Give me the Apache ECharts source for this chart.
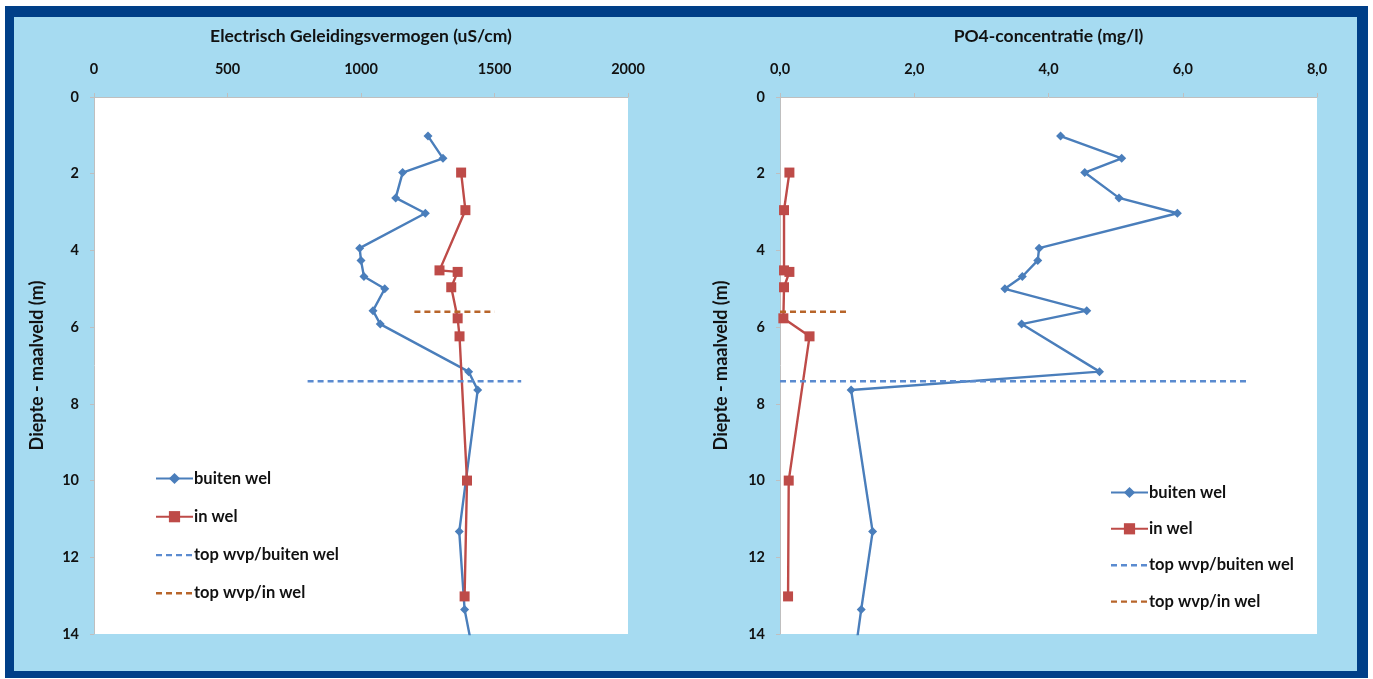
<!DOCTYPE html>
<html>
<head>
<meta charset="utf-8">
<script src="https://cdn.jsdelivr.net/npm/echarts@6/dist/echarts.min.js"></script>
<style>
html,body{margin:0;padding:0;background:#ffffff;}
#chart{width:1373px;height:679px;}
</style>
</head>
<body>
<div id="chart"></div>
<script>
// ---- data ----
var depthBuiten = [1.02, 1.6, 1.97, 2.63, 3.03, 3.94, 4.26, 4.68, 5.0, 5.57, 5.92, 7.16, 7.64, 11.33, 13.36, 14.5];
var ecBuiten    = [1251, 1307, 1156, 1130, 1241, 995, 1000, 1011, 1089, 1045, 1072, 1403, 1437, 1368, 1388, 1420];
var po4Buiten   = [4.18, 5.09, 4.54, 5.05, 5.92, 3.86, 3.84, 3.61, 3.35, 4.57, 3.60, 4.76, 1.06, 1.38, 1.21, 1.12];

var depthIn = [1.97, 2.95, 4.52, 4.56, 4.96, 5.77, 6.24, 10.0, 13.02];
var ecIn    = [1375, 1391, 1294, 1362, 1338, 1362, 1369, 1397, 1388];
var po4In   = [0.14, 0.06, 0.06, 0.14, 0.06, 0.05, 0.44, 0.13, 0.12];

var topWvpBuitenDepth = 7.41;
var topWvpInDepth = 5.6;
var ecTopBuitenRange = [800, 1600];
var ecTopInRange = [1200, 1500];
var po4TopBuitenRange = [0, 7.0];
var po4TopInRange = [0, 1.0];

var ecTicks = [0, 500, 1000, 1500, 2000];
var po4Ticks = [0, 2, 4, 6, 8];
var depthTicks = [0, 2, 4, 6, 8, 10, 12, 14];

var names = ['buiten wel', 'in wel', 'top wvp/buiten wel', 'top wvp/in wel'];
var titles = ['Electrisch Geleidingsvermogen (uS/cm)', 'PO4-concentratie (mg/l)'];
var yTitle = 'Diepte - maalveld (m)';

// ---- helpers ----
function pairs(xs, ys) { return xs.map(function (x, i) { return [x, ys[i]]; }); }
var FONT = 'Lato';
var BLUE = '#4A7EBB', RED = '#BE4B48', DBLUE = '#5B8BD0', BROWN = '#B8652A';
var axisGray = '#BFBFBF';
var DASH_ICON = 'path://M0,0 M37,14 M0,6h6v2.4h-6z M10,6h6v2.4h-6z M20,6h6v2.4h-6z M30,6h6v2.4h-6z';

function xAxisCfg(idx, ticks, fmt) {
  return {
    type: 'value', gridIndex: idx, position: 'top',
    min: ticks[0], max: ticks[ticks.length - 1], interval: ticks[1] - ticks[0],
    name: titles[idx], nameLocation: 'middle', nameGap: 52,
    nameTextStyle: { fontFamily: FONT, fontWeight: 'bold', fontSize: 17.5, color: '#111' },
    axisLine: { show: true, lineStyle: { color: axisGray, width: 1 } },
    axisTick: { show: true, length: 4, lineStyle: { color: axisGray } },
    axisLabel: { margin: 20, fontFamily: FONT, fontWeight: 'bold', fontSize: 14.5, color: '#111', formatter: fmt },
    splitLine: { show: false }
  };
}
function yAxisCfg(idx, gap) {
  return {
    type: 'value', gridIndex: idx, inverse: true,
    min: depthTicks[0], max: depthTicks[depthTicks.length - 1], interval: depthTicks[1] - depthTicks[0],
    name: yTitle, nameLocation: 'middle', nameGap: gap, nameRotate: 90,
    nameTextStyle: { fontFamily: FONT, fontWeight: 'bold', fontSize: 18, color: '#111' },
    axisLine: { show: true, lineStyle: { color: axisGray, width: 1 } },
    axisTick: { show: true, length: 4, lineStyle: { color: axisGray } },
    axisLabel: { margin: 15, fontFamily: FONT, fontWeight: 'bold', fontSize: 14.5, color: '#111' },
    splitLine: { show: false }
  };
}
function seriesFor(idx, buiten, inw, topB, topI) {
  return [
    { name: names[0], type: 'line', xAxisIndex: idx, yAxisIndex: idx, data: pairs(buiten, depthBuiten),
      symbol: 'diamond', symbolSize: 9, lineStyle: { color: BLUE, width: 2.4 }, itemStyle: { color: BLUE },
      clip: true, animation: false },
    { name: names[1], type: 'line', xAxisIndex: idx, yAxisIndex: idx, data: pairs(inw, depthIn),
      symbol: 'rect', symbolSize: 10, lineStyle: { color: RED, width: 2.4 }, itemStyle: { color: RED },
      clip: true, animation: false },
    { name: names[2], type: 'line', xAxisIndex: idx, yAxisIndex: idx,
      data: [[topB[0], topWvpBuitenDepth], [topB[1], topWvpBuitenDepth]],
      symbol: 'none', lineStyle: { color: DBLUE, width: 2.4, type: [6, 4] }, itemStyle: { color: DBLUE },
      animation: false },
    { name: names[3], type: 'line', xAxisIndex: idx, yAxisIndex: idx,
      data: [[topI[0], topWvpInDepth], [topI[1], topWvpInDepth]],
      symbol: 'none', lineStyle: { color: BROWN, width: 2.4, type: [6, 4] }, itemStyle: { color: BROWN },
      animation: false }
  ];
}
function legendCfg(left, top, gap) {
  return {
    orient: 'vertical', left: left, top: top, itemWidth: 37, itemHeight: 14, itemGap: gap,
    data: [
      { name: names[0] },
      { name: names[1] },
      { name: names[2], icon: DASH_ICON },
      { name: names[3], icon: DASH_ICON }
    ],
    selectedMode: false,
    textStyle: { fontFamily: FONT, fontWeight: 'bold', fontSize: 16.5, color: '#111', padding: [0, 0, 0, -4] }
  };
}

var chart = echarts.init(document.getElementById('chart'), null, { renderer: 'canvas' });
chart.setOption({
  backgroundColor: '#ffffff',
  animation: false,
  graphic: [
    { type: 'rect', left: 5, top: 6, shape: { width: 1363, height: 672 }, style: { fill: '#003F88' }, z: -10 },
    { type: 'rect', left: 14, top: 17, shape: { width: 1343, height: 654 }, style: { fill: '#A6DBF1' }, z: -9 }
  ],
  grid: [
    { left: 94, top: 97, width: 534, height: 537, show: true, backgroundColor: '#ffffff', borderWidth: 0 },
    { left: 780, top: 97, width: 537, height: 537, show: true, backgroundColor: '#ffffff', borderWidth: 0 }
  ],
  xAxis: [
    xAxisCfg(0, ecTicks, function (v) { return String(v); }),
    xAxisCfg(1, po4Ticks, function (v) { return v.toFixed(1).replace('.', ','); })
  ],
  yAxis: [yAxisCfg(0, 48), yAxisCfg(1, 50)],
  legend: [legendCfg(150, 465, 21.2), legendCfg(1105, 479, 19.3)],
  series: seriesFor(0, ecBuiten, ecIn, ecTopBuitenRange, ecTopInRange)
    .concat(seriesFor(1, po4Buiten, po4In, po4TopBuitenRange, po4TopInRange))
});
</script>
</body>
</html>
